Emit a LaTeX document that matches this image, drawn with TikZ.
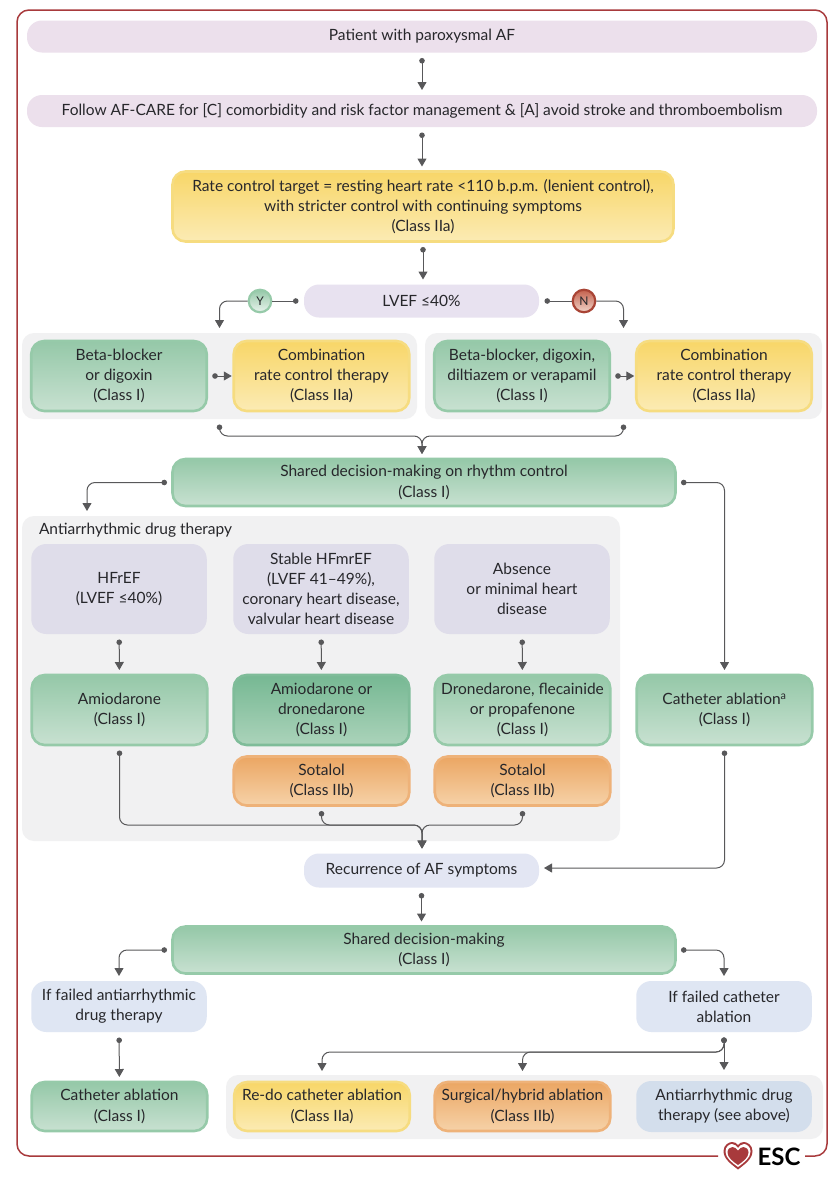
\documentclass[tikz,border=0pt]{standalone}
\usepackage{fontspec}
\setmainfont{Lato}
\usetikzlibrary{arrows.meta}
\definecolor{txtcol}{HTML}{27272B}
\definecolor{wirecol}{HTML}{58585A}
\definecolor{framecol}{HTML}{A83A3C}
\definecolor{panelcol}{HTML}{F1F1F2}
\definecolor{gbord}{HTML}{96CAA9}\definecolor{gtop}{HTML}{95C8A8}\definecolor{gbot}{HTML}{C8E1D1}
\definecolor{gdbord}{HTML}{7FBC99}\definecolor{gdtop}{HTML}{76B893}\definecolor{gdbot}{HTML}{ABD3BA}
\definecolor{ybord}{HTML}{F6DC80}\definecolor{ytop}{HTML}{F8D668}\definecolor{ybot}{HTML}{FBEBB4}
\definecolor{obord}{HTML}{EEB279}\definecolor{otop}{HTML}{EBA663}\definecolor{obot}{HTML}{F6D2A8}
\definecolor{nbord}{HTML}{A94435}\definecolor{ntop}{HTML}{C4604C}\definecolor{nbot}{HTML}{F0D5CA}
\definecolor{lilac}{HTML}{ECE0EC}\definecolor{lilacb}{HTML}{E8E2F0}\definecolor{lilacc}{HTML}{DFDDEA}
\definecolor{recurfill}{HTML}{E3E6F3}\definecolor{failfill}{HTML}{DFE6F3}\definecolor{seefill}{HTML}{D3DEEC}
\tikzset{
  box/.style={rectangle, rounded corners=13, align=center, text=txtcol, outer sep=0, inner sep=0,
    font=\fontsize{15.5}{20.2}\selectfont},
  softbox/.style={box, rounded corners=15},
  greenbox/.style={box, line width=2.6, draw=gbord, top color=gtop, bottom color=gbot},
  darkbox/.style={box, line width=2.6, draw=gdbord, top color=gdtop, bottom color=gdbot},
  yellowbox/.style={box, line width=2.6, draw=ybord, top color=ytop, bottom color=ybot},
  orangebox/.style={box, line width=2.6, draw=obord, top color=otop, bottom color=obot},
  panel/.style={rectangle, rounded corners=12, fill=panelcol, outer sep=0},
  answer/.style={circle, minimum size=22.5, inner sep=0, line width=2.2, text=txtcol, font=\fontsize{12}{14}\selectfont},
  wireline/.style={draw=wirecol, line width=1, rounded corners=8},
  wire/.style={wireline, {Circle[length=5.5pt,fill=wirecol]}-{Triangle[length=8pt,width=9pt,fill=wirecol]},
    shorten <=5.5pt, shorten >=5pt},
  wirestart/.style={wireline, {Circle[length=5.5pt,fill=wirecol]}-, shorten <=5.5pt},
  wireend/.style={wireline, -{Triangle[length=8pt,width=9pt,fill=wirecol]}, shorten >=5pt},
  col/.style={minimum width=175.5},
}
\begin{document}
\begin{tikzpicture}[x=1pt,y=-1pt]
    \useasboundingbox (0,0) rectangle (840,1178);
    \fill[white] (0,0) rectangle (840,1178);
    \draw[framecol, line width=1.5, rounded corners=12] (718,1156) -- (17,1156) -- (17,10) -- (827,10) -- (827,1156) -- (805,1156);

    \node[panel, minimum width=395, minimum height=86] (ratey) at (219.5,376) {};
    \node[panel, minimum width=397, minimum height=86] (raten) at (623.5,376) {};
    \node[panel, minimum width=598, minimum height=325] (drugs) at (321,678.5) {};
    \node[panel, minimum width=597, minimum height=64] (after) at (524.5,1107) {};

    \node[softbox, fill=lilac, minimum width=790, minimum height=32] (patient) at (422,36.5) {Patient with paroxysmal AF};
    \node[softbox, fill=lilac, minimum width=790, minimum height=32] (care) at (422,111) {Follow AF-CARE for [C] comorbidity and risk factor management \& [A] avoid stroke and thromboembolism};
    \node[yellowbox, minimum width=501, minimum height=70] (target) at (423,206.5) {Rate control target = resting heart rate <110 b.p.m. (lenient control),\\ with stricter control with continuing symptoms\\ (Class IIa)};
    \node[softbox, fill=lilacb, minimum width=235, minimum height=33] (lvef) at (421.5,301) {LVEF ≤40\%};
    \node[answer, draw=gbord, top color=gtop, bottom color=gbot!40!white] (yes) at (260,301) {Y};
    \node[answer, draw=nbord, top color=ntop, bottom color=nbot] (no) at (584,301) {N};

    \node[greenbox, col, minimum height=70] (bbd) at (119,376) {Beta-blocker\\ or digoxin\\ (Class I)};
    \node[yellowbox, col, minimum height=70] (comby) at (321.5,376) {Combination\\ rate control therapy\\ (Class IIa)};
    \node[greenbox, col, minimum height=70] (bbv) at (522,376) {Beta-blocker, digoxin,\\ diltiazem or verapamil\\ (Class I)};
    \node[yellowbox, col, minimum height=70] (combn) at (724,376) {Combination\\ rate control therapy\\ (Class IIa)};
    \node[greenbox, minimum width=503, minimum height=47] (sdmr) at (424,482.5) {Shared decision-making on rhythm control\\ (Class I)};

    \node[box, anchor=west] (drugslabel) at (39,530) {Antiarrhythmic drug therapy};
    \node[softbox, fill=lilacc, col, minimum height=90] (hfref) at (119,589) {HFrEF\\ (LVEF ≤40\%)};
    \node[softbox, fill=lilacc, col, minimum height=90] (stable) at (321,589) {Stable HFmrEF\\ (LVEF 41–49\%),\\ coronary heart disease,\\ valvular heart disease};
    \node[softbox, fill=lilacc, col, minimum height=90] (minimal) at (522,589) {Absence\\ or minimal heart\\ disease};
    \node[greenbox, col, minimum height=70] (amio) at (119.5,710) {Amiodarone\\ (Class I)};
    \node[darkbox, col, minimum height=70] (dron) at (321.5,710) {Amiodarone or\\ dronedarone\\ (Class I)};
    \node[greenbox, col, minimum height=70] (flec) at (522.5,710) {Dronedarone, flecainide\\ or propafenone\\ (Class I)};
    \node[greenbox, col, minimum height=70] (abl) at (724.5,710) {Catheter ablation\textsuperscript{a}\\ (Class I)};
    \node[orangebox, col, minimum height=49] (sotm) at (321.5,781) {Sotalol\\ (Class IIb)};
    \node[orangebox, col, minimum height=49] (sotr) at (522.5,781) {Sotalol\\ (Class IIb)};

    \node[softbox, fill=recurfill, minimum width=235, minimum height=34] (recur) at (421.5,870.5) {Recurrence of AF symptoms};
    \node[greenbox, minimum width=503, minimum height=47] (sdm) at (424,950) {Shared decision-making\\ (Class I)};
    \node[softbox, fill=failfill, col, minimum height=51] (faild) at (119,1006.5) {If failed antiarrhythmic\\ drug therapy};
    \node[softbox, fill=failfill, col, minimum height=51] (failc) at (724,1006.5) {If failed catheter\\ ablation};
    \node[greenbox, col, minimum height=49] (ablb) at (119.5,1106.5) {Catheter ablation\\ (Class I)};
    \node[yellowbox, col, minimum height=49] (redo) at (322,1106.5) {Re-do catheter ablation\\ (Class IIa)};
    \node[orangebox, col, minimum height=49] (surg) at (522.5,1106.5) {Surgical/hybrid ablation\\ (Class IIb)};
    \node[softbox, fill=seefill, col, minimum height=51] (see) at (724,1106.5) {Antiarrhythmic drug\\ therapy (see above)};

    \coordinate (mergea) at (422,436);
    \coordinate (mergeb) at (422,825);
    \coordinate (branch) at (724,1052);
    \coordinate (drugsin) at (87,516);

    \draw[wire] (patient) -- (care);
    \draw[wire] (care) -- (care |- target.north);
    \draw[wire] (target) -- (target |- lvef.north);
    \draw[wirestart] (lvef) -- (yes);
    \draw[wirestart] (lvef) -- (no);
    \draw[wireend] (yes) -| (ratey.north);
    \draw[wireend] (no) -| (raten.north);
    \draw[wire, shorten >=2pt] (bbd) -- (comby);
    \draw[wire, shorten >=2pt] (bbv) -- (combn);
    \draw[wire] (ratey.south) |- (mergea) -- (mergea |- sdmr.north);
    \draw[wire] (raten.south) |- (mergea) -- (mergea |- sdmr.north);
    \draw[wire] (sdmr.west) -| (drugsin);
    \draw[wire] (sdmr.east) -| (abl.north);
    \draw[wire] (hfref) -- (amio);
    \draw[wire] (stable) -- (dron);
    \draw[wire] (minimal) -- (flec);
    \draw[wire] (amio.south) |- (mergeb) -- (mergeb |- recur.north);
    \draw[wire] (sotm.south) |- (mergeb) -- (mergeb |- recur.north);
    \draw[wire] (sotr.south) |- (mergeb) -- (mergeb |- recur.north);
    \draw[wire] (abl.south) |- ([yshift=2.5]recur.east);
    \draw[wire] (recur.south) -- (recur.south |- sdm.north);
    \draw[wire] (sdm.west) -| (faild.north);
    \draw[wire] (sdm.east) -| (failc.north);
    \draw[wire] (faild) -- (ablb);
    \draw[wire, shorten >=11pt] (failc.south) |- (redo |- branch) -- (redo.north);
    \draw[wire, shorten >=11pt] (failc.south) |- (surg |- branch) -- (surg.north);
    \draw[wire, shorten >=11pt] (failc) -- (see);

    % logo
    \begin{scope}[shift={(738,1156)}]
      \fill[framecol] (0,13.5) .. controls (-7,8) and (-14.5,3) .. (-14.5,-5) .. controls (-14.5,-11) and (-9,-14) .. (-6,-14) .. controls (-3.5,-14) and (-1.5,-13) .. (0,-11) .. controls (1.5,-13) and (3.5,-14) .. (6,-14) .. controls (9,-14) and (14.5,-11) .. (14.5,-5) .. controls (14.5,3) and (7,8) .. (0,13.5) -- cycle;
      \fill[white] (0,11) .. controls (-6,6.5) and (-12.5,2) .. (-12.5,-4.5) .. controls (-12.5,-9.5) and (-8.5,-12) .. (-6,-12) .. controls (-3.5,-12) and (-1.5,-10) .. (0,-8) .. controls (1.5,-10) and (3.5,-12) .. (6,-12) .. controls (8.5,-12) and (12.5,-9.5) .. (12.5,-4.5) .. controls (12.5,2) and (6,6.5) .. (0,11) -- cycle;
      \fill[framecol] (0,9) .. controls (-5,5.5) and (-10.5,1.5) .. (-10.5,-3.5) .. controls (-10.5,-7) and (-8,-9) .. (-5.5,-9) .. controls (-3.5,-9) and (-1.5,-7.5) .. (0,-5.5) .. controls (1.5,-7.5) and (3.5,-9) .. (5.5,-9) .. controls (8,-9) and (10.5,-7) .. (10.5,-3.5) .. controls (10.5,1.5) and (5,5.5) .. (0,9) -- cycle;
    \end{scope}
    \node[text=black, inner sep=0, font=\fontsize{24}{26}\selectfont\bfseries] (esc) at (779,1157) {ESC};
\end{tikzpicture}
\end{document}
